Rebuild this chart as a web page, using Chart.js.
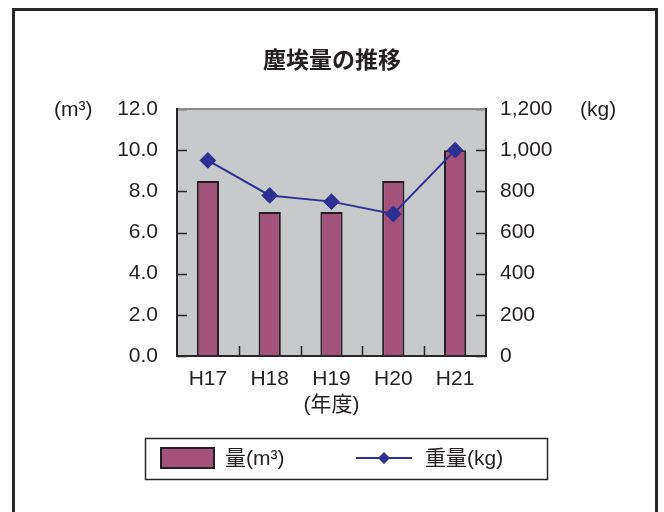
<!DOCTYPE html>
<html>
<head>
<meta charset="utf-8">
<script src="https://cdn.jsdelivr.net/npm/chart.js@4"></script>
<style>
  html, body { margin: 0; padding: 0; background: #fff; overflow: hidden; }
  #wrap { position: relative; width: 664px; height: 512px; }
  #frame { position: absolute; left: 12px; top: 8px; width: 640px; height: 600px; border: 3px solid #2a2627; }
  #chart { position: absolute; left: 0; top: 0; }
</style>
</head>
<body>
<div id="wrap">
  <div id="frame"></div>
  <canvas id="chart" width="664" height="512"></canvas>
</div>
<script>
const years = ['H17', 'H18', 'H19', 'H20', 'H21']
const volume = [8.5, 7.0, 7.0, 8.5, 10.0]
const weight = [950, 780, 750, 690, 1000]
const volumeRange = [0, 12, 2]
const weightRange = [0, 1200, 200]

const fam = "'Liberation Sans', 'Noto Sans CJK JP', sans-serif";
const ink = '#231f20';
const barColor = '#a3527a';
const lineColor = '#2e3192';
const plotBg = '#c8c9cb';

// background, inner tick marks, plot frame, title, units and legend box
const extras = {
  id: 'extras',
  beforeDatasetsDraw(chart) {
    const {ctx, chartArea: a} = chart;
    ctx.save();
    ctx.fillStyle = plotBg;
    ctx.fillRect(a.left, a.top, a.width, a.height);
    ctx.restore();
  },
  afterDraw(chart) {
    const {ctx, chartArea: a, scales} = chart;
    ctx.save();
    ctx.strokeStyle = '#2a2627';
    ctx.lineWidth = 1.5;
    ctx.beginPath();
    scales.y.ticks.forEach(t => {
      const py = Math.round(scales.y.getPixelForValue(t.value)) + 0.5;
      ctx.moveTo(a.left, py); ctx.lineTo(a.left + 10, py);
    });
    scales.y2.ticks.forEach(t => {
      const py = Math.round(scales.y2.getPixelForValue(t.value)) + 0.5;
      ctx.moveTo(a.right, py); ctx.lineTo(a.right - 10, py);
    });
    for (let i = 0; i < years.length - 1; i++) {
      const px = Math.round((scales.x.getPixelForValue(i) + scales.x.getPixelForValue(i + 1)) / 2) + 0.5;
      ctx.moveTo(px, a.bottom); ctx.lineTo(px, a.bottom - 10);
    }
    ctx.stroke();
    ctx.lineWidth = 2;
    ctx.strokeRect(a.left, a.top, a.width, a.height);
    ctx.strokeStyle = '#8a8a8c';
    ctx.beginPath();
    ctx.moveTo(a.left + 1, a.top); ctx.lineTo(a.right - 1, a.top);
    ctx.stroke();

    ctx.fillStyle = ink;
    ctx.textBaseline = 'middle';
    ctx.textAlign = 'center';
    ctx.font = "bold 23px " + fam;
    ctx.fillText('塵埃量の推移', 332, 62);

    ctx.font = "21px " + fam;
    ctx.textAlign = 'left';
    ctx.fillText('(m³)', 54, 110);
    ctx.fillText('(kg)', 580, 110);

    // legend
    const ds = chart.data.datasets;
    ctx.strokeStyle = '#2a2627';
    ctx.lineWidth = 1.5;
    ctx.strokeRect(145.5, 438.5, 402, 41);
    ctx.fillStyle = ds[0].backgroundColor;
    ctx.fillRect(161, 448, 53, 20);
    ctx.lineWidth = 2;
    ctx.strokeStyle = ds[0].borderColor;
    ctx.strokeRect(161, 448, 53, 20);
    ctx.fillStyle = ink;
    ctx.fillText(ds[0].label, 225, 459);

    ctx.strokeStyle = ds[1].borderColor;
    ctx.lineWidth = 2;
    ctx.beginPath();
    ctx.moveTo(356, 458); ctx.lineTo(412, 458);
    ctx.stroke();
    ctx.fillStyle = ds[1].pointBackgroundColor;
    ctx.beginPath();
    ctx.moveTo(384, 452); ctx.lineTo(390, 458); ctx.lineTo(384, 464); ctx.lineTo(378, 458);
    ctx.closePath();
    ctx.fill();
    ctx.fillStyle = ink;
    ctx.fillText(ds[1].label, 425, 459);
    ctx.restore();
  }
};

new Chart(document.getElementById('chart').getContext('2d'), {
  data: {
    labels: years,
    datasets: [{
      type: 'bar',
      label: '量(m³)',
      data: volume,
      yAxisID: 'y',
      backgroundColor: barColor,
      borderColor: '#231f20',
      borderWidth: 2,
      barPercentage: 0.36,
      categoryPercentage: 1,
      order: 1
    }, {
      type: 'line',
      label: '重量(kg)',
      data: weight,
      yAxisID: 'y2',
      borderColor: lineColor,
      borderWidth: 2,
      pointStyle: 'rectRot',
      pointRadius: 7,
      pointBackgroundColor: lineColor,
      pointBorderColor: lineColor,
      tension: 0,
      order: 0
    }]
  },
  options: {
    responsive: false,
    animation: false,
    layout: { padding: { top: 109, bottom: 96, left: 0, right: 0 } },
    plugins: { legend: { display: false }, title: { display: false }, tooltip: { enabled: false } },
    scales: {
      x: {
        grid: { display: false }, border: { display: false },
        ticks: { color: ink, font: { family: fam, size: 21 }, padding: 3 },
        title: { display: true, text: '(年度)', color: ink, font: { family: fam, size: 21 }, padding: { top: 0, bottom: -2 } },
        afterFit(s) { s.height = 60; }
      },
      y: {
        position: 'left',
        min: volumeRange[0], max: volumeRange[1],
        grid: { display: false, drawTicks: false }, border: { display: false },
        ticks: { stepSize: volumeRange[2], color: ink, font: { family: fam, size: 21 }, padding: 19,
          callback: v => v.toFixed(1) },
        afterFit(s) { s.width = 177; }
      },
      y2: {
        position: 'right',
        min: weightRange[0], max: weightRange[1],
        grid: { display: false, drawTicks: false }, border: { display: false },
        ticks: { stepSize: weightRange[2], color: ink, font: { family: fam, size: 21 }, padding: 14,
          callback: v => v.toLocaleString('en-US') },
        afterFit(s) { s.width = 178; }
      }
    }
  },
  plugins: [extras]
});
</script>
</body>
</html>
